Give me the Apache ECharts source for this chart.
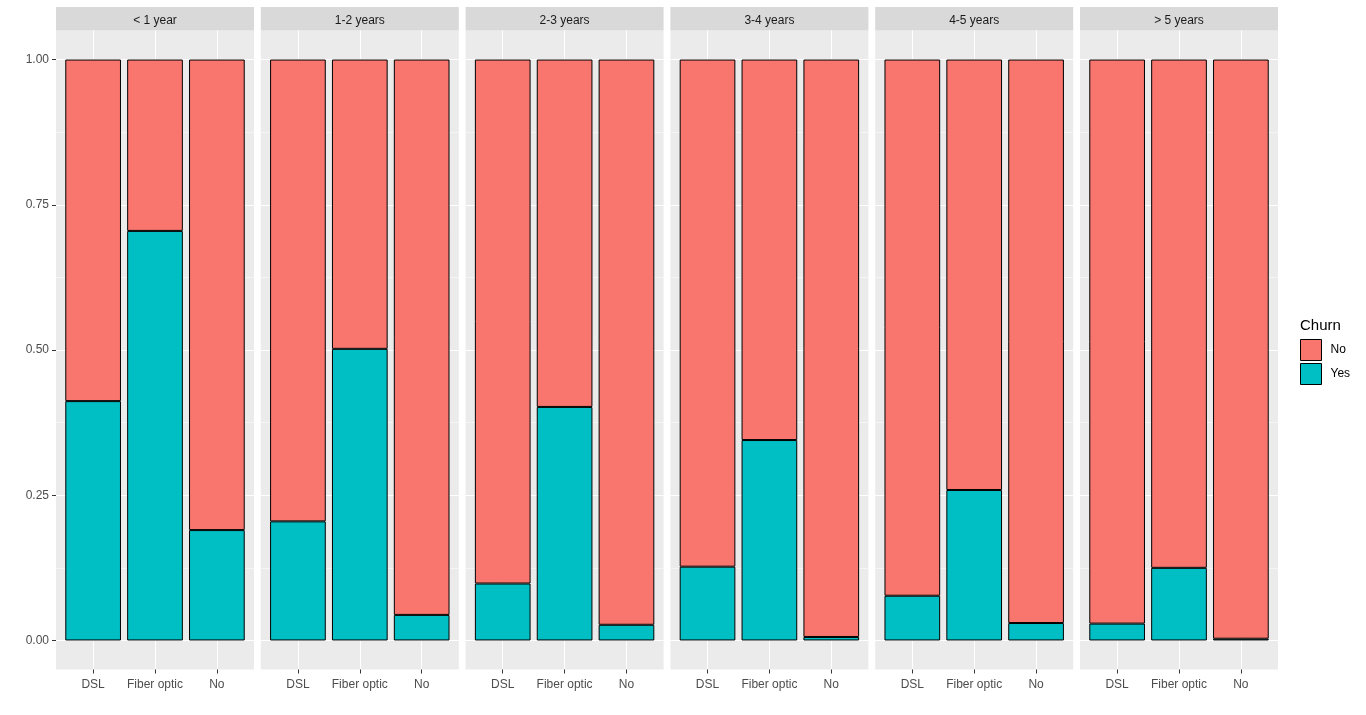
<!DOCTYPE html>
<html><head><meta charset="utf-8">
<script src="https://cdn.jsdelivr.net/npm/echarts@6/dist/echarts.min.js"></script>
<style>html,body{margin:0;padding:0;background:#fff}#c{width:1366px;height:715px}</style>
</head><body><div id="c"></div>
<script>
const facets = ['< 1 year', '1-2 years', '2-3 years', '3-4 years', '4-5 years', '> 5 years'];
const services = ['DSL', 'Fiber optic', 'No'];
// share of customers by churn, per tenure facet, per internet service
const yesShare = [
  [0.412, 0.705, 0.190],
  [0.205, 0.502, 0.044],
  [0.098, 0.402, 0.027],
  [0.127, 0.345, 0.006],
  [0.077, 0.259, 0.030],
  [0.029, 0.125, 0.003]
];
const noShare = [
  [0.588, 0.295, 0.810],
  [0.795, 0.498, 0.956],
  [0.902, 0.598, 0.973],
  [0.873, 0.655, 0.994],
  [0.923, 0.741, 0.970],
  [0.971, 0.875, 0.997]
];
const yTicks = [0, 0.25, 0.5, 0.75, 1];
const yMinor = [0.125, 0.375, 0.625, 0.875];
const xPos = [1, 2, 3];

const FONT = '"Liberation Sans", Arial, sans-serif';
const P_LEFT = 56, P_STEP = 204.8, P_W = 198, P_TOP = 30.5, P_H = 639;
const BAR_W = 0.9 * P_W / 3.2;

const grids = [], xAxes = [], yAxes = [], series = [], graphics = [];
facets.forEach((f, i) => {
  const left = P_LEFT + i * P_STEP;
  grids.push({left: left, top: P_TOP, width: P_W, height: P_H, show: true,
    backgroundColor: '#ebebeb', borderWidth: 0, containLabel: false});
  xAxes.push({gridIndex: i, type: 'value', min: 0.4, max: 3.6, position: 'bottom',
    axisLine: {show: false, onZero: false},
    axisTick: {show: true, customValues: xPos, length: 4, lineStyle: {color: '#333', width: 1}},
    axisLabel: {customValues: xPos, formatter: v => services[Math.round(v) - 1],
      color: '#4d4d4d', fontSize: 12, fontFamily: FONT, margin: 9},
    splitLine: {show: true, lineStyle: {color: '#ffffff', width: 1}}});
  yAxes.push({gridIndex: i, type: 'value', min: -0.05, max: 1.05, position: 'left',
    axisLine: {show: false, onZero: false},
    axisTick: {show: i === 0, customValues: yTicks, length: 4, lineStyle: {color: '#333', width: 1}},
    axisLabel: {show: i === 0, customValues: yTicks, formatter: v => v.toFixed(2),
      color: '#4d4d4d', fontSize: 12, fontFamily: FONT, margin: 7, padding: [4, 0, 0, 0]},
    splitLine: {show: true, lineStyle: {color: '#ffffff', width: 1}}, z: 1});
  yAxes.push({gridIndex: i, type: 'value', min: -0.05, max: 1.05, position: 'right',
    axisLine: {show: false, onZero: false},
    axisTick: {show: false, customValues: yMinor},
    axisLabel: {show: false, customValues: yMinor},
    splitLine: {show: true, lineStyle: {color: '#f5f5f5', width: 1}}, z: 0});
  series.push({type: 'bar', name: 'Yes', xAxisIndex: i, yAxisIndex: 2 * i, stack: 's' + i,
    barWidth: BAR_W, z: 3, encode: {x: 1, y: 0},
    data: services.map((s, j) => [yesShare[i][j], xPos[j]]),
    itemStyle: {color: '#00BFC4', borderColor: '#000', borderWidth: 1}});
  series.push({type: 'bar', name: 'No', xAxisIndex: i, yAxisIndex: 2 * i, stack: 's' + i,
    barWidth: BAR_W, z: 3, encode: {x: 1, y: 0},
    data: services.map((s, j) => [noShare[i][j], xPos[j]]),
    itemStyle: {color: '#F8766D', borderColor: '#000', borderWidth: 1}});
  graphics.push({type: 'rect', left: left, top: 7, shape: {width: P_W, height: 23.5},
    style: {fill: '#d9d9d9'}, silent: true});
  graphics.push({type: 'text', x: left + P_W / 2, y: 21,
    style: {text: f, fill: '#1a1a1a', font: '12px ' + FONT, textAlign: 'center', textVerticalAlign: 'middle'}});
});
graphics.push({type: 'text', x: 1300, y: 326,
  style: {text: 'Churn', fill: '#000', font: '15px ' + FONT, textAlign: 'left', textVerticalAlign: 'middle'}});

const chart = echarts.init(document.getElementById('c'), null, {renderer: 'canvas'});
chart.setOption({
  animation: false,
  backgroundColor: '#ffffff',
  grid: grids, xAxis: xAxes, yAxis: yAxes, series: series,
  legend: {orient: 'vertical', left: 1300, top: 339, padding: 0, itemWidth: 21, itemHeight: 21, itemGap: 2,
    icon: 'rect', data: ['No', 'Yes'], selectedMode: false,
    itemStyle: {borderColor: '#000', borderWidth: 1},
    textStyle: {fontSize: 12, color: '#000', fontFamily: FONT, padding: [4, 0, 0, 4]}},
  graphic: graphics
});
</script></body></html>
